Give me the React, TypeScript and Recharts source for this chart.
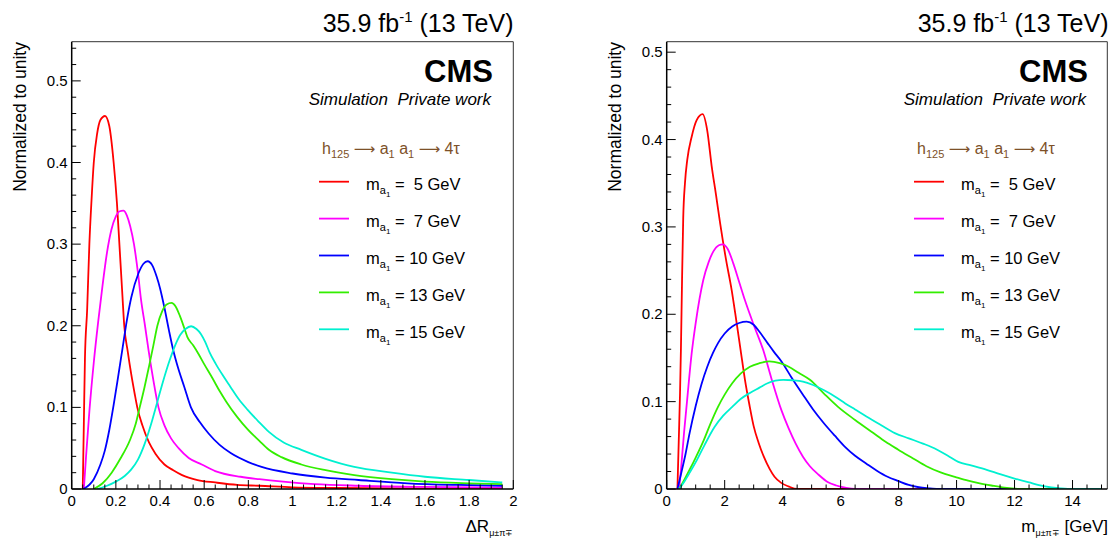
import React from 'react';
import { LineChart, Line, XAxis, YAxis, ReferenceLine } from 'recharts';

// ---------- Left panel: ΔR(μ±π∓) ----------
const dR5x = [0.05, 0.055, 0.06, 0.07, 0.08, 0.09, 0.1, 0.115, 0.13, 0.151, 0.17, 0.19, 0.205, 0.216, 0.228, 0.238, 0.254, 0.27, 0.285, 0.297, 0.32, 0.35, 0.38, 0.42, 0.46, 0.5, 0.57, 0.65, 0.75, 0.85, 1.0, 1.2, 1.5, 1.95];
const dR5y = [0, 0.08, 0.16, 0.22, 0.3, 0.355, 0.4, 0.435, 0.452, 0.457, 0.445, 0.4, 0.35, 0.3, 0.245, 0.2, 0.168, 0.14, 0.117, 0.1, 0.078, 0.057, 0.043, 0.03, 0.023, 0.017, 0.011, 0.008, 0.005, 0.004, 0.002, 0.0012, 0.0006, 0.0003];

const dR7x = [0.055, 0.065, 0.08, 0.1, 0.12, 0.14, 0.16, 0.18, 0.2, 0.215, 0.234, 0.25, 0.265, 0.282, 0.3, 0.314, 0.332, 0.348, 0.37, 0.393, 0.42, 0.45, 0.484, 0.53, 0.589, 0.65, 0.765, 0.85, 0.957, 1.1, 1.3, 1.6, 1.95];
const dR7y = [0, 0.04, 0.095, 0.155, 0.205, 0.25, 0.29, 0.318, 0.334, 0.34, 0.341, 0.335, 0.322, 0.3, 0.265, 0.232, 0.2, 0.17, 0.133, 0.1, 0.078, 0.062, 0.05, 0.038, 0.03, 0.022, 0.015, 0.012, 0.009, 0.006, 0.004, 0.0025, 0.0015];

const dR10x = [0.053, 0.1, 0.13, 0.15, 0.17, 0.19, 0.21, 0.23, 0.25, 0.27, 0.302, 0.325, 0.344, 0.365, 0.385, 0.4, 0.42, 0.44, 0.46, 0.48, 0.51, 0.54, 0.58, 0.62, 0.67, 0.72, 0.8, 0.86, 1.0, 1.15, 1.3, 1.52, 1.75, 1.95];
const dR10y = [0, 0.012, 0.03, 0.047, 0.072, 0.103, 0.137, 0.172, 0.207, 0.235, 0.264, 0.276, 0.279, 0.274, 0.26, 0.246, 0.222, 0.195, 0.17, 0.15, 0.125, 0.1, 0.082, 0.068, 0.054, 0.044, 0.033, 0.027, 0.019, 0.014, 0.011, 0.007, 0.005, 0.004];

const dR13x = [0.1, 0.14, 0.181, 0.22, 0.264, 0.29, 0.308, 0.33, 0.35, 0.37, 0.388, 0.41, 0.43, 0.452, 0.47, 0.49, 0.51, 0.524, 0.55, 0.573, 0.6, 0.637, 0.67, 0.7, 0.75, 0.797, 0.85, 0.893, 0.95, 1.04, 1.15, 1.28, 1.45, 1.6, 1.8, 1.95];
const dR13y = [0, 0.007, 0.02, 0.037, 0.06, 0.08, 0.1, 0.125, 0.15, 0.176, 0.2, 0.218, 0.226, 0.228, 0.224, 0.212, 0.197, 0.186, 0.176, 0.166, 0.153, 0.136, 0.12, 0.107, 0.088, 0.073, 0.059, 0.048, 0.039, 0.03, 0.023, 0.017, 0.012, 0.009, 0.007, 0.006];

const dR15x = [0.116, 0.16, 0.2, 0.24, 0.27, 0.3, 0.33, 0.36, 0.388, 0.415, 0.444, 0.47, 0.492, 0.515, 0.541, 0.565, 0.585, 0.605, 0.625, 0.653, 0.685, 0.717, 0.757, 0.797, 0.845, 0.893, 0.96, 1.04, 1.15, 1.28, 1.45, 1.6, 1.8, 1.95];
const dR15y = [0, 0.004, 0.009, 0.016, 0.024, 0.036, 0.055, 0.08, 0.107, 0.133, 0.158, 0.177, 0.189, 0.196, 0.1994, 0.196, 0.19, 0.18, 0.167, 0.153, 0.139, 0.126, 0.11, 0.097, 0.083, 0.07, 0.057, 0.048, 0.037, 0.027, 0.02, 0.015, 0.011, 0.008];

// ---------- Right panel: m(μ±π∓) [GeV] ----------
const m5x = [0.37, 0.42, 0.46, 0.49, 0.53, 0.57, 0.63, 0.71, 0.86, 1.03, 1.24, 1.4, 1.55, 1.7, 1.84, 2.05, 2.24, 2.4, 2.55, 2.7, 2.85, 3.0, 3.17, 3.35, 3.55, 3.72, 3.95, 4.2, 4.5, 15.0];
const m5y = [0, 0.06, 0.11, 0.159, 0.24, 0.31, 0.35, 0.377, 0.403, 0.422, 0.429, 0.41, 0.37, 0.337, 0.305, 0.262, 0.228, 0.193, 0.159, 0.125, 0.097, 0.072, 0.053, 0.037, 0.023, 0.014, 0.007, 0.003, 0, 0];

const m7x = [0.43, 0.5, 0.6, 0.7, 0.86, 1.0, 1.26, 1.45, 1.61, 1.8, 1.93, 2.1, 2.3, 2.5, 2.7, 3.0, 3.33, 3.6, 3.96, 4.2, 4.45, 4.7, 4.94, 5.25, 5.55, 5.85, 6.16, 6.5, 15.0];
const m7y = [0, 0.025, 0.065, 0.1, 0.155, 0.19, 0.239, 0.26, 0.272, 0.279, 0.28, 0.275, 0.258, 0.237, 0.216, 0.188, 0.159, 0.128, 0.09, 0.07, 0.052, 0.037, 0.026, 0.016, 0.008, 0.004, 0.0015, 0, 0];

const m10x = [0.37, 0.5, 0.65, 0.79, 1.0, 1.2, 1.4, 1.6, 1.77, 2.0, 2.26, 2.5, 2.76, 3.0, 3.2, 3.48, 3.7, 3.96, 4.3, 4.7, 5.05, 5.43, 5.8, 6.16, 6.5, 6.89, 7.25, 7.62, 8.0, 8.35, 8.7, 9.08, 9.4, 15.0];
const m10y = [0, 0.018, 0.04, 0.064, 0.095, 0.12, 0.14, 0.156, 0.167, 0.178, 0.186, 0.19, 0.1916, 0.188, 0.18, 0.167, 0.157, 0.146, 0.128, 0.108, 0.091, 0.075, 0.061, 0.048, 0.038, 0.029, 0.021, 0.014, 0.009, 0.0046, 0.002, 0.0008, 0, 0];

const m13x = [0.43, 0.6, 0.79, 1.0, 1.28, 1.5, 1.77, 2.0, 2.26, 2.55, 2.87, 3.2, 3.54, 3.9, 4.21, 4.55, 4.94, 5.4, 5.91, 6.5, 7.13, 7.55, 7.99, 8.5, 8.96, 9.45, 9.94, 10.4, 10.8, 11.2, 11.65, 12.2, 15.0];
const m13y = [0, 0.01, 0.022, 0.036, 0.056, 0.074, 0.094, 0.108, 0.121, 0.132, 0.14, 0.144, 0.146, 0.144, 0.14, 0.133, 0.125, 0.11, 0.094, 0.079, 0.064, 0.054, 0.045, 0.035, 0.026, 0.019, 0.014, 0.0095, 0.0065, 0.004, 0.0015, 0, 0];

const m15x = [0.43, 0.6, 0.8, 1.04, 1.3, 1.65, 1.95, 2.26, 2.55, 2.87, 3.2, 3.48, 3.75, 4.02, 4.35, 4.7, 5.05, 5.43, 5.8, 6.16, 6.5, 6.89, 7.4, 7.87, 8.35, 8.84, 9.33, 9.7, 10.06, 10.5, 11.04, 11.5, 12.0, 12.5, 13.0, 13.6, 14.0, 15.0];
const m15y = [0, 0.008, 0.019, 0.033, 0.05, 0.071, 0.084, 0.094, 0.103, 0.11, 0.116, 0.121, 0.124, 0.125, 0.1245, 0.123, 0.119, 0.113, 0.106, 0.098, 0.091, 0.083, 0.073, 0.064, 0.058, 0.052, 0.045, 0.038, 0.031, 0.027, 0.022, 0.017, 0.012, 0.0075, 0.0034, 0.0008, 0, 0];

// ---------- Labels / ticks ----------
const massLabels = [' 5', ' 7', '10', '13', '15'];
const dRMajor = [0, 0.2, 0.4, 0.6, 0.8, 1, 1.2, 1.4, 1.6, 1.8, 2];
const mMajor = [0, 2, 4, 6, 8, 10, 12, 14];
const yMajor = [0, 0.1, 0.2, 0.3, 0.4, 0.5];

// ---------- Styles ----------
const COLORS = ['#ff0000', '#ff00ff', '#0000ff', '#33ee00', '#00f0d0'];
const FONT = '"Liberation Sans", Arial, Helvetica, sans-serif';
const ARROW_FONT = '"DejaVu Sans", sans-serif';
const BROWN = '#7d5128';

type Pt = { x: number; y: number };
const zip = (xs: number[], ys: number[]): Pt[] => xs.map((x, i) => ({ x, y: ys[i] }));
const steps = (lo: number, hi: number, step: number): number[] => {
  const out: number[] = [];
  const n = Math.round((hi - lo) / step);
  for (let i = 0; i <= n; i++) out.push(+(lo + i * step).toFixed(4));
  return out;
};
const isIn = (arr: number[], v: number) => arr.some((a) => Math.abs(a - v) < 1e-6);
const fmt = (v: number) => String(+v.toFixed(2));

const dRSeries = [zip(dR5x, dR5y), zip(dR7x, dR7y), zip(dR10x, dR10y), zip(dR13x, dR13y), zip(dR15x, dR15y)];
const mSeries = [zip(m5x, m5y), zip(m7x, m7y), zip(m10x, m10y), zip(m13x, m13y), zip(m15x, m15y)];

const makeXTick = (majors: number[]) => (props: any) => {
  const { x, y, payload } = props;
  const v = payload.value as number;
  const major = isIn(majors, v);
  return (
    <g>
      <line x1={x} x2={x} y1={y} y2={y - (major ? 9 : 4.5)} stroke="#000" strokeWidth={1} />
      {major && (
        <text x={x} y={y + 17} textAnchor="middle" fontSize={15} fontFamily={FONT} fill="#000">
          {fmt(v)}
        </text>
      )}
    </g>
  );
};

const makeYTick = (majors: number[]) => (props: any) => {
  const { x, y, payload } = props;
  const v = payload.value as number;
  const major = isIn(majors, v);
  return (
    <g>
      <line x1={x} x2={x + (major ? 9 : 4.5)} y1={y} y2={y} stroke="#000" strokeWidth={1} />
      {major && (
        <text x={x - 4} y={y + 5} textAnchor="end" fontSize={15} fontFamily={FONT} fill="#000">
          {fmt(v)}
        </text>
      )}
    </g>
  );
};

type PanelProps = {
  series: Pt[][];
  xDomain: [number, number];
  yDomain: [number, number];
  xMajor: number[];
  xTicks: number[];
  yTicks: number[];
  margin: { top: number; right: number; bottom: number; left: number };
};

function Panel({ series, xDomain, yDomain, xMajor, xTicks, yTicks, margin }: PanelProps) {
  return (
    <LineChart width={555} height={538} margin={margin}>
      <XAxis
        type="number"
        dataKey="x"
        domain={xDomain}
        ticks={xTicks}
        interval={0}
        tickSize={0}
        tickMargin={0}
        tickLine={false}
        height={30}
        allowDataOverflow
        axisLine={{ stroke: '#000', strokeWidth: 1.5 }}
        tick={makeXTick(xMajor)}
      />
      <YAxis
        type="number"
        domain={yDomain}
        ticks={yTicks}
        interval={0}
        tickSize={0}
        tickMargin={0}
        tickLine={false}
        width={60}
        allowDataOverflow
        axisLine={{ stroke: '#000', strokeWidth: 1.5 }}
        tick={makeYTick(yMajor)}
      />
      <ReferenceLine y={yDomain[1]} stroke="#333" strokeWidth={1} />
      <ReferenceLine x={xDomain[1]} stroke="#333" strokeWidth={1} />
      {series.map((pts, i) => (
        <Line
          key={i}
          data={pts}
          dataKey="y"
          type="monotone"
          stroke={COLORS[i]}
          strokeWidth={1.8}
          dot={false}
          activeDot={false}
          isAnimationActive={false}
        />
      ))}
    </LineChart>
  );
}

function PanelText({ ox, xTitle }: { ox: number; xTitle: 'dR' | 'm' }) {
  const rows = [181.7, 218.6, 255.5, 292.4, 329.3];
  return (
    <g fontFamily={FONT}>
      <text x={513.5 + ox} y={31.5} textAnchor="end" fontSize={25} fill="#000">
        35.9 fb<tspan fontSize={15} dy={-10}>-1</tspan>
        <tspan fontSize={25} dy={10} style={{ whiteSpace: 'pre' }}> (13 TeV)</tspan>
      </text>
      <text x={493 + ox} y={82} textAnchor="end" fontSize={31} fontWeight="bold" fill="#000">CMS</text>
      <text x={491 + ox} y={104.5} textAnchor="end" fontSize={17} fontStyle="italic" fill="#000" style={{ whiteSpace: 'pre' }}>
        Simulation  Private work
      </text>
      <text x={322 + ox} y={153.5} fontSize={16} fill={BROWN} style={{ whiteSpace: 'pre' }}>
        h<tspan fontSize={11} dy={4}>125</tspan>
        <tspan fontSize={16} dy={-4}> </tspan>
        <tspan fontFamily={ARROW_FONT} fontSize={15}>⟶</tspan>
        <tspan fontSize={16}> a</tspan>
        <tspan fontSize={11} dy={4}>1</tspan>
        <tspan fontSize={16} dy={-4}> a</tspan>
        <tspan fontSize={11} dy={4}>1</tspan>
        <tspan fontSize={16} dy={-4}> </tspan>
        <tspan fontFamily={ARROW_FONT} fontSize={15}>⟶</tspan>
        <tspan fontSize={16}> 4τ</tspan>
      </text>
      {massLabels.map((lab, i) => (
        <g key={i}>
          <line x1={319 + ox} x2={349 + ox} y1={rows[i]} y2={rows[i]} stroke={COLORS[i]} strokeWidth={1.8} />
          <text x={366 + ox} y={rows[i] + 8.5} fontSize={16.5} fill="#000" style={{ whiteSpace: 'pre' }}>
            m<tspan fontSize={11} dy={4}>a</tspan>
            <tspan fontSize={8} dy={3}>1</tspan>
            <tspan fontSize={16.5} dy={-7}>{` = ${lab} GeV`}</tspan>
          </text>
        </g>
      ))}
      <text
        transform={`translate(${25.5 + ox}, 42) rotate(-90)`}
        textAnchor="end"
        fontSize={17.5}
        fill="#000"
      >
        Normalized to unity
      </text>
      {xTitle === 'dR' ? (
        <text x={513.5 + ox} y={531.5} textAnchor="end" fontSize={17} fill="#000">
          ΔR<tspan fontSize={9} dy={4}>μ±π∓</tspan>
        </text>
      ) : (
        <text x={1108} y={531.5} textAnchor="end" fontSize={17} fill="#000" style={{ whiteSpace: 'pre' }}>
          m<tspan fontSize={9} dy={4}>μ±π∓</tspan>
          <tspan fontSize={17} dy={-4}> [GeV]</tspan>
        </text>
      )}
    </g>
  );
}

export default function App() {
  return (
    <div style={{ position: 'absolute', left: 0, top: 0, width: 1110, height: 538, background: '#fff', overflow: 'hidden' }}>
      <div style={{ position: 'absolute', left: 0, top: 0 }}>
        <Panel
          series={dRSeries}
          xDomain={[0, 2]}
          yDomain={[0, 0.548]}
          xMajor={dRMajor}
          xTicks={steps(0, 2, 0.05)}
          yTicks={steps(0, 0.54, 0.02)}
          margin={{ top: 41.7, right: 41.7, bottom: 19, left: 11.7 }}
        />
      </div>
      <div style={{ position: 'absolute', left: 555, top: 0 }}>
        <Panel
          series={mSeries}
          xDomain={[0, 15.2]}
          yDomain={[0, 0.512]}
          xMajor={mMajor}
          xTicks={steps(0, 15, 0.5)}
          yTicks={steps(0, 0.5, 0.02)}
          margin={{ top: 41.7, right: 2.7, bottom: 19, left: 51.7 }}
        />
      </div>
      <svg width={1110} height={538} style={{ position: 'absolute', left: 0, top: 0, pointerEvents: 'none' }}>
        <PanelText ox={0} xTitle="dR" />
        <PanelText ox={595} xTitle="m" />
      </svg>
    </div>
  );
}
